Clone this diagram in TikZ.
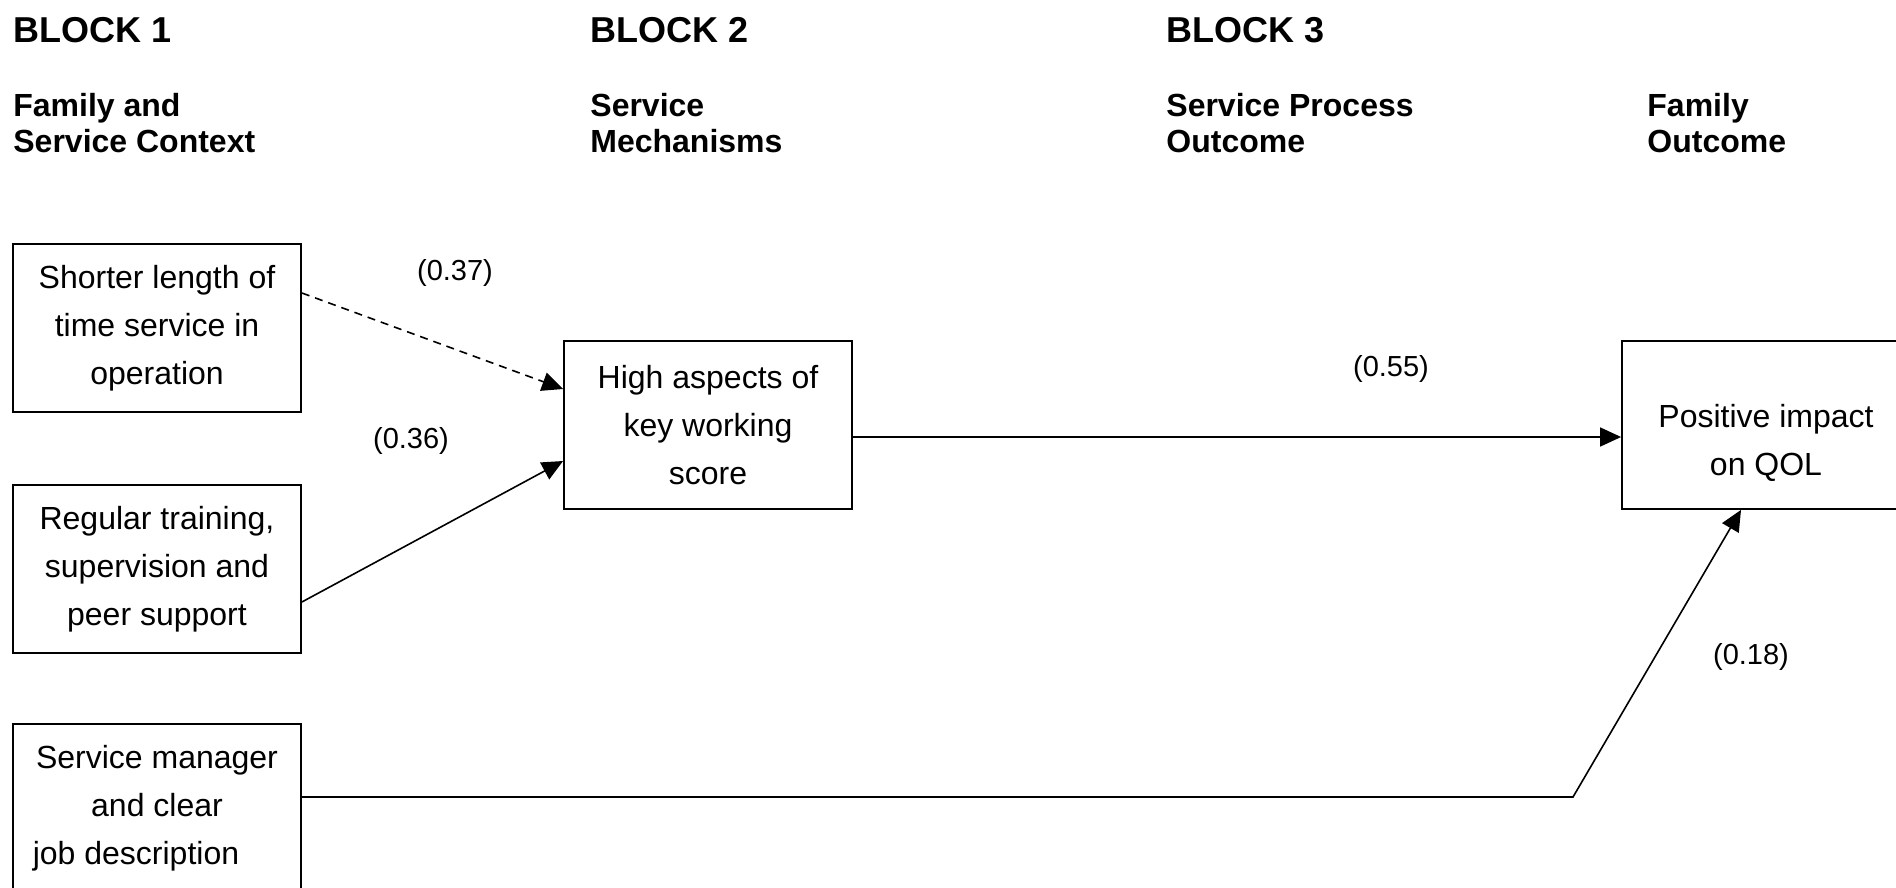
\documentclass[tikz,border=0pt]{standalone}
\usepackage{fontspec}
\setmainfont{Liberation Sans}
\usetikzlibrary{calc}
\usetikzlibrary{arrows.meta}
\tikzstyle{factorbox}=[draw,line width=0.9pt,minimum width=144pt,minimum height=84pt,inner sep=0pt,align=center,font=\fontsize{16}{24}\selectfont]
\tikzstyle{blockhead}=[anchor=west,inner sep=0pt,font=\fontsize{18}{20}\selectfont\bfseries]
\tikzstyle{blocksub}=[anchor=west,inner sep=0pt,align=left,font=\fontsize{16}{18}\selectfont\bfseries]
\tikzstyle{pathlabel}=[inner sep=0pt,font=\fontsize{14.5}{17}\selectfont]
\tikzstyle{pathassignment}=[-{Triangle[length=10.5pt,width=9.5pt]},line width=0.8pt]
\begin{document}
\begin{tikzpicture}[x=0.5pt,y=-0.5pt]
  \clip (0,0) rectangle (1896,888);
  % column heads
  \node[blockhead] (head1) at (13,30) {BLOCK 1};
  \node[blockhead] (head2) at (590,30) {BLOCK 2};
  \node[blockhead] (head3) at (1166,30) {BLOCK 3};
  \node[blocksub] (sub1) at (13,123) {Family and\\Service Context};
  \node[blocksub] (sub2) at (590,123) {Service\\Mechanisms};
  \node[blocksub] (sub3) at (1166,123) {Service Process\\Outcome};
  \node[blocksub] (sub4) at (1647,123) {Family\\Outcome};
  % factors
  \node[factorbox] (shorter) at (157,328) {Shorter length of\\time service in\\operation};
  \node[factorbox] (training) at (157,569) {Regular training,\\supervision and\\peer support};
  \node[factorbox] (manager) at (157,808) {Service manager\\and clear\\job description\rule{21pt}{0pt}};
  \node[factorbox] (keywork) at (708,425) {High aspects of\\key working\\score};
  \node[factorbox] (qol) at (1766,425) {\mbox{}\\[6pt]Positive impact\\on QOL};
  \coordinate (bend) at (1573,797);
  % paths
  \draw[pathassignment,dash pattern=on 4pt off 3pt] ([yshift=17.5pt]shorter.east) -- ([yshift=18pt]keywork.west);
  \draw[pathassignment] ([yshift=-16.5pt]training.east) -- ([yshift=-18pt]keywork.west);
  \draw[pathassignment] ([yshift=-6pt]keywork.east) -- ([yshift=-6pt]qol.west);
  \draw[pathassignment] ([yshift=5.5pt]manager.east) -- (bend) -- ([xshift=-12.5pt]qol.south);
  \node[pathlabel] (p037) at (455,273) {(0.37)};
  \node[pathlabel] (p036) at (411,441) {(0.36)};
  \node[pathlabel] (p055) at (1391,369) {(0.55)};
  \node[pathlabel] (p018) at (1751,657) {(0.18)};
\end{tikzpicture}
\end{document}
